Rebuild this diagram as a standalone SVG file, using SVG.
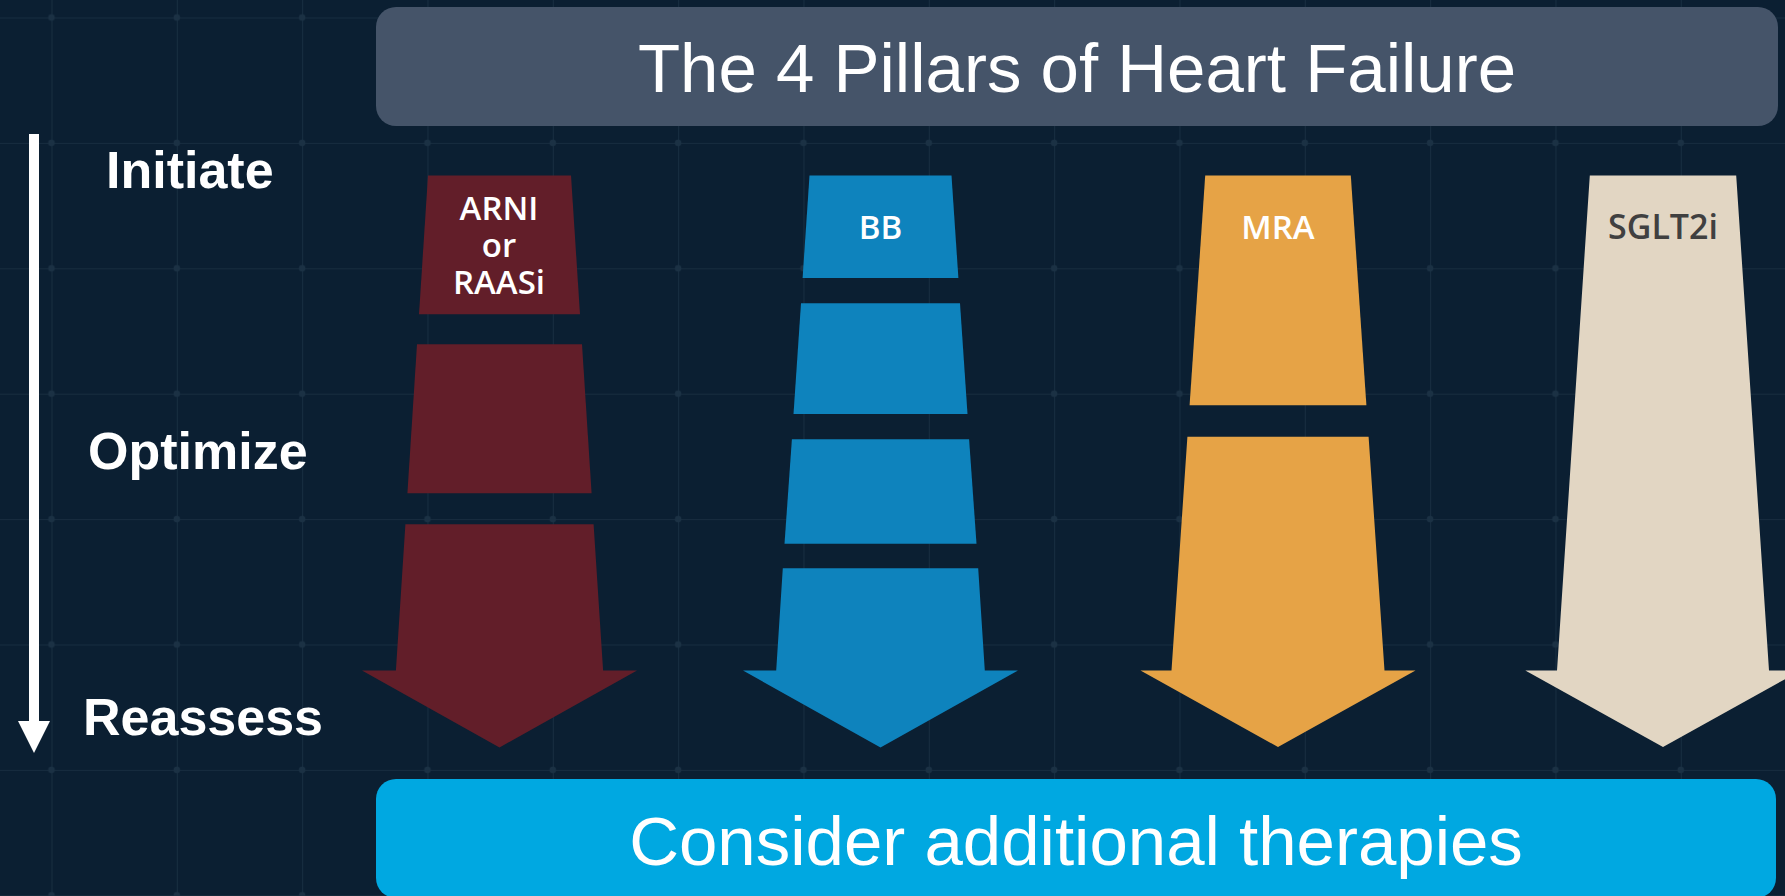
<svg xmlns="http://www.w3.org/2000/svg" width="1785" height="896" viewBox="0 0 1785 896">
  <defs>
    <style>
      .bg { fill: #0b1f32; }
      .banner-text { font-family: "Liberation Sans", Arial, sans-serif; font-size: 69px; fill: #ffffff; text-anchor: middle; }
      .stage { font-family: "Liberation Sans", Arial, sans-serif; font-weight: bold; font-size: 52px; fill: #ffffff; }
      .pill-label { font-family: "Open Sans", "Noto Sans", sans-serif; font-weight: 600; font-size: 33px; fill: #ffffff; text-anchor: middle; }
      .arni { fill: #621e29; }
      .bb { fill: #0e83bd; }
      .mra { fill: #e6a346; }
      .sglt { fill: #e2d6c3; }
    </style>
    <!-- background grid: one cell with lines on its top/left edges and dots at the corners -->
    <pattern id="gridPattern" x="51.5" y="17.5" width="125.33" height="125.4" patternUnits="userSpaceOnUse">
      <line x1="0" y1="0" x2="125.33" y2="0" stroke="#1b3144" stroke-width="1.6"/>
      <line x1="0" y1="0" x2="0" y2="125.4" stroke="#1b3144" stroke-width="1.6"/>
      <circle cx="0" cy="0" r="3.2" fill="#1b3144"/>
      <circle cx="125.33" cy="0" r="3.2" fill="#1b3144"/>
      <circle cx="0" cy="125.4" r="3.2" fill="#1b3144"/>
      <circle cx="125.33" cy="125.4" r="3.2" fill="#1b3144"/>
    </pattern>
  </defs>

  <!-- backdrop and grid -->
  <rect class="bg" x="0" y="0" width="1785" height="896"/>
  <rect x="0" y="0" width="1785" height="896" fill="url(#gridPattern)"/>

  <!-- title banner -->
  <g id="title">
    <rect x="376" y="7" width="1402" height="119" rx="20" fill="#455469"/>
    <text class="banner-text" x="1077" y="92">The 4 Pillars of Heart Failure</text>
  </g>

  <!-- treatment stage axis -->
  <g id="stage-axis">
    <rect x="29" y="134" width="10" height="588" fill="#ffffff"/>
    <polygon points="18,721 50,721 34,753" fill="#ffffff"/>
  </g>
  <g id="stage-initiate"><text class="stage" x="106" y="188">Initiate</text></g>
  <g id="stage-optimize"><text class="stage" x="88" y="469">Optimize</text></g>
  <g id="stage-reassess"><text class="stage" x="83" y="735">Reassess</text></g>

  <!-- pillar 1: ARNI or RAASi -->
  <g id="pillar-arni" class="arni">
    <polygon points="428,175.5 571,175.5 580,314.3 419,314.3"/>
    <polygon points="417,344.3 582,344.3 591.6,493.3 407.4,493.3"/>
    <polygon points="405.4,524.3 593.6,524.3 603.1,670.5 637,670.5 499.5,747.5 362,670.5 395.9,670.5"/>
    <text class="pill-label"><tspan x="499" y="220">ARNI</tspan><tspan x="499" y="257">or</tspan><tspan x="499" y="294">RAASi</tspan></text>
  </g>

  <!-- pillar 2: BB -->
  <g id="pillar-bb" class="bb">
    <polygon points="809.5,175.5 951.5,175.5 958.4,278 802.6,278"/>
    <polygon points="801,303.3 960,303.3 967.5,414 793.5,414"/>
    <polygon points="791.9,439.3 969.1,439.3 976.5,543.7 784.5,543.7"/>
    <polygon points="782.8,568.3 978.2,568.3 984.8,670.5 1018,670.5 880.5,747.5 743,670.5 776.2,670.5"/>
    <text class="pill-label" x="880.5" y="239">BB</text>
  </g>

  <!-- pillar 3: MRA -->
  <g id="pillar-mra" class="mra">
    <polygon points="1205.2,175.5 1350.8,175.5 1366.4,405.3 1189.6,405.3"/>
    <polygon points="1187.4,436.7 1368.6,436.7 1384.5,670.5 1415.5,670.5 1278,747 1140.5,670.5 1171.5,670.5"/>
    <text class="pill-label" x="1278" y="239">MRA</text>
  </g>

  <!-- pillar 4: SGLT2i -->
  <g id="pillar-sglt2i" class="sglt">
    <polygon points="1589.8,175.5 1736.2,175.5 1769,670.5 1800.7,670.5 1663,747 1525.3,670.5 1557,670.5"/>
    <text class="pill-label" x="1663" y="239" style="fill:#404040;font-size:34px">SGLT2i</text>
  </g>

  <!-- footer banner -->
  <g id="footer">
    <rect x="376" y="779" width="1400" height="119" rx="20" fill="#00a8e1"/>
    <text class="banner-text" x="1076" y="865">Consider additional therapies</text>
  </g>

  <g id="connectors"></g>
</svg>
